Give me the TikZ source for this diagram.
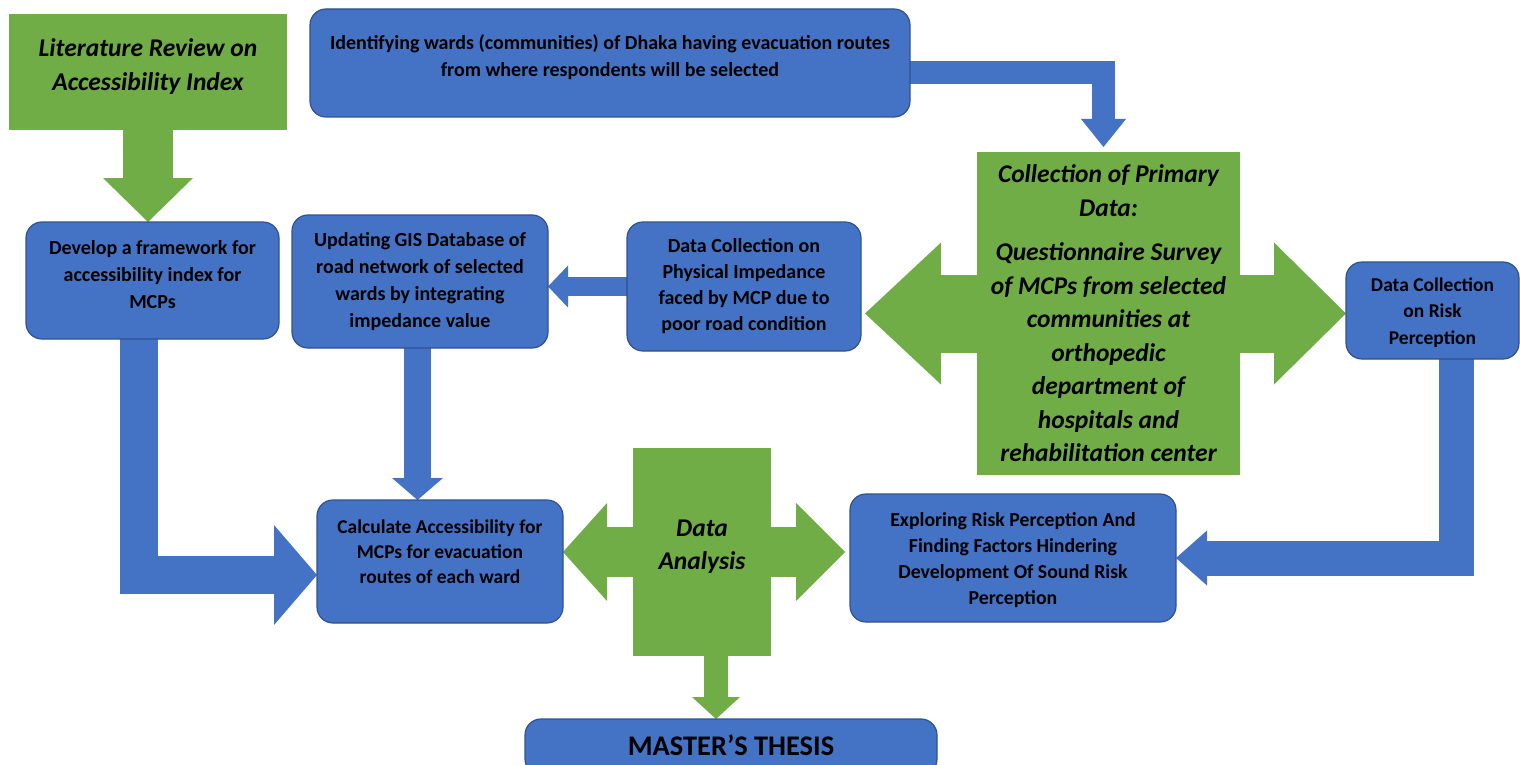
\documentclass[tikz,border=0pt]{standalone}
\usepackage{fontspec}
\setmainfont{Carlito}
\usetikzlibrary{calc,backgrounds}
\definecolor{bfill}{HTML}{4472C4}
\definecolor{bline}{HTML}{2F528F}
\definecolor{gfill}{HTML}{70AD47}
\newcommand{\fsz}[2]{\fontsize{#1}{#2}\selectfont\bfseries}
\begin{document}
\begin{tikzpicture}[x=1pt,y=-1pt,
  bluebox/.style={draw=bline, line width=1.2pt, fill=bfill, rounded corners=16pt,
                  inner sep=0pt, outer sep=0pt},
  greenbox/.style={fill=gfill, inner sep=0pt, outer sep=0pt},
  txt/.style={align=center, text=black, inner sep=0pt},
  bshaft/.style={draw=bfill, line join=miter, line cap=butt},
  gshaft/.style={draw=gfill, line join=miter, line cap=butt}]
\useasboundingbox (0,0) rectangle (1520,765);
\clip (0,0) rectangle (1520,765);

% ---------- boxes ----------
\node[greenbox, minimum width=278pt, minimum height=116pt,
  label={[name=litt, txt, yshift=5pt, font=\fsz{25.5}{34}\itshape]center:{Literature Review on\\Accessibility Index}}]
  (lit) at (148,72) {};
\node[bluebox, minimum width=600pt, minimum height=108pt,
  label={[name=idwt, txt, yshift=6pt, font=\fsz{20}{27}]center:{Identifying wards (communities) of Dhaka having evacuation routes\\from where respondents will be selected}}]
  (idw) at (610,63) {};
\node[bluebox, minimum width=253pt, minimum height=117pt,
  label={[name=devt, txt, yshift=5.5pt, font=\fsz{20}{27}]center:{Develop a framework for\\accessibility index for\\MCPs}}]
  (dev) at (152.5,280.5) {};
\node[bluebox, minimum width=256pt, minimum height=133pt,
  label={[name=updt, txt, font=\fsz{20}{27}]center:{Updating GIS Database of\\road network of selected\\wards by integrating\\impedance value}}]
  (upd) at (420,281.5) {};
\node[bluebox, minimum width=234pt, minimum height=129pt,
  label={[name=phyt, txt, font=\fsz{20}{26}]center:{Data Collection on\\Physical Impedance\\faced by MCP due to\\poor road condition}}]
  (phys) at (744,286.5) {};
\node[greenbox, minimum width=263pt, minimum height=323pt,
  label={[name=collt, txt, font=\fsz{25.5}{33.5}\itshape]center:{Collection of Primary\\Data:\\[11pt]Questionnaire Survey\\of MCPs from selected\\communities at\\orthopedic\\department of\\hospitals and\\rehabilitation center}}]
  (coll) at (1108.5,313.5) {};
\node[bluebox, minimum width=173pt, minimum height=97pt,
  label={[name=riskt, txt, yshift=-2pt, font=\fsz{19.5}{26.5}]center:{Data Collection\\on Risk\\Perception}}]
  (risk) at (1432.5,310.5) {};
\node[bluebox, minimum width=246pt, minimum height=123pt,
  label={[name=calct, txt, yshift=9.5pt, font=\fsz{19.5}{25}]center:{Calculate Accessibility for\\MCPs for evacuation\\routes of each ward}}]
  (calc) at (440,561.5) {};
\node[greenbox, minimum width=138pt, minimum height=208pt,
  label={[name=dat, txt, yshift=5.5pt, font=\fsz{25.5}{33}\itshape]center:{Data\\Analysis}}]
  (da) at (702,552) {};
\node[bluebox, minimum width=326pt, minimum height=128pt,
  label={[name=explt, txt, yshift=-2pt, font=\fsz{19.8}{26}]center:{Exploring Risk Perception And\\Finding Factors Hindering\\Development Of Sound Risk\\Perception}}]
  (expl) at (1013,558) {};
\node[bluebox, minimum width=412pt, minimum height=56pt,
  label={[name=mastert, txt, yshift=2pt, font=\fsz{28.4}{30}]center:{MASTER’S THESIS}}]
  (master) at (731,747) {};

\coordinate (dafoot) at ($(da.south)+(14,0)$);

% ---------- block arrows ----------
\begin{scope}[on background layer]
  % literature review -> framework
  \draw[gshaft, line width=50pt] (lit.south) -- ($(lit.south |- dev.north)+(0,-44)$);
  \fill[gfill] (lit.south |- dev.north) -- ++(45,-44) -- ++(-90,0) -- cycle;

  % identifying wards -> collection of primary data
  \draw[bshaft, line width=23pt] ($(idw.east)+(-4,9.5)$) -| ($(coll.north)+(-5,-33)$);
  \fill[bfill] ($(coll.north)+(-5,-5)$) -- ++(22.5,-28) -- ++(-45,0) -- cycle;

  % physical impedance -> GIS database
  \draw[bshaft, line width=19pt] ($(phys.west)+(4,0)$) -- ($(phys.west -| upd.east)+(20,0)$);
  \fill[bfill] (phys.west -| upd.east) -- ++(20,-21) -- ++(0,42) -- cycle;

  % GIS database -> accessibility calculation
  \draw[bshaft, line width=27pt] ($(upd.south)+(-2.5,-4)$) -- ($(upd.south |- calc.north)+(-2.5,-22)$);
  \fill[bfill] ($(upd.south |- calc.north)+(-2.5,0)$) -- ++(25.5,-22) -- ++(-51,0) -- cycle;

  % framework -> accessibility calculation
  \draw[bshaft, line width=38pt] ($(dev.south)+(-13.5,-4)$) |- ($(calc.west)+(-43,13.5)$);
  \fill[bfill] ($(calc.west)+(0,13.5)$) -- ++(-43,-50) -- ++(0,100) -- cycle;

  % risk perception data -> exploring risk perception
  \draw[bshaft, line width=35pt] ($(risk.south)+(23.5,-4)$) |- ($(expl.east)+(31,0)$);
  \fill[bfill] (expl.east) -- ++(31,-27.5) -- ++(0,55) -- cycle;

  % primary data collection, both ways
  \draw[gshaft, line width=78pt] ($(phys.east |- coll.center)+(80,0)$) -- ($(risk.west |- coll.center)+(-72,0)$);
  \fill[gfill] ($(phys.east |- coll.center)+(4,0)$) -- ++(76,-71) -- ++(0,142) -- cycle;
  \fill[gfill] (risk.west |- coll.center) -- ++(-72,-71) -- ++(0,142) -- cycle;

  % data analysis, both ways
  \draw[gshaft, line width=50pt] ($(calc.east |- da.center)+(43,0)$) -- ($(expl.west |- da.center)+(-54,0)$);
  \fill[gfill] (calc.east |- da.center) -- ++(44,-49) -- ++(0,98) -- cycle;
  \fill[gfill] ($(expl.west |- da.center)+(-5,0)$) -- ++(-49,-49) -- ++(0,98) -- cycle;

  % data analysis -> thesis
  \draw[gshaft, line width=24pt] (dafoot) -- ($(dafoot |- master.north)+(0,-22)$);
  \fill[gfill] (dafoot |- master.north) -- ++(24,-22) -- ++(-48,0) -- cycle;
\end{scope}
\end{tikzpicture}
\end{document}
